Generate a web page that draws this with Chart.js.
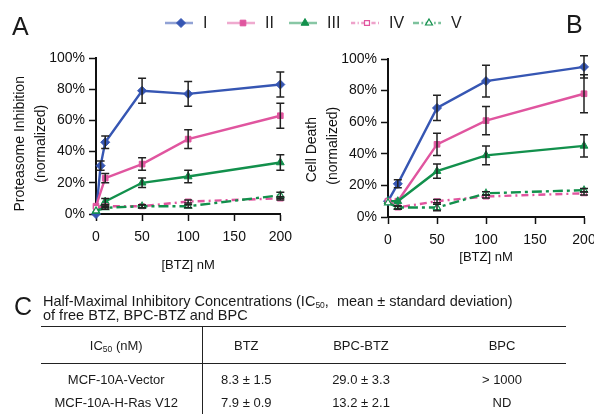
<!DOCTYPE html>
<html>
<head>
<meta charset="utf-8">
<script src="https://cdn.jsdelivr.net/npm/chart.js@4.4.1/dist/chart.umd.min.js"></script>
<style>
body { margin: 0; background: #fff; font-family: "Liberation Sans", Arial, sans-serif; color: #1a1a1a; }
#wrap { position: relative; width: 594px; height: 414px; overflow: hidden; background: #fff; }
.panel { position: absolute; font-size: 25px; line-height: 25px; }
#legendBox { position: absolute; left: 0; top: 0; width: 594px; height: 35px; }
#boxA { position: absolute; left: 0; top: 35px; width: 300px; height: 250px; }
#boxB { position: absolute; left: 300px; top: 35px; width: 310px; height: 250px; }
#titleC { position: absolute; left: 43px; top: 294px; font-size: 14.5px; line-height: 14px; white-space: nowrap; }
#titleC sub, #tableC sub { font-size: 8.5px; vertical-align: -2px; line-height: 0; }
#tableC { position: absolute; left: 41px; top: 326px; border-collapse: collapse; table-layout: fixed; font-size: 13px; }
#tableC td, #tableC th { font-weight: normal; text-align: center; padding: 0; white-space: nowrap; }
#tableC thead th { height: 36px; border-top: 1.5px solid #222; border-bottom: 1.5px solid #222; }
#tableC tbody td { height: 23px; line-height: 23px; }
#tableC tbody tr:first-child td { padding-top: 4px; }
#tableC .first { border-right: 1.5px solid #222; padding-right: 10px; }
#tableC .last { padding-left: 6px; }
</style>
</head>
<body>
<div id="wrap">
  <div id="legendBox"><canvas id="legend"></canvas></div>
  <div class="panel" style="left:12px; top:14px;">A</div>
  <div class="panel" style="left:566px; top:12px;">B</div>
  <div id="boxA"><canvas id="chartA"></canvas></div>
  <div id="boxB"><canvas id="chartB"></canvas></div>
  <div class="panel" style="left:14px; top:294px;">C</div>
  <div id="titleC">Half-Maximal Inhibitory Concentrations (IC<sub>50</sub>,&nbsp; mean &plusmn; standard deviation)<br>of free BTZ, BPC-BTZ and BPC</div>
  <table id="tableC">
    <colgroup><col style="width:161px"><col style="width:88px"><col style="width:142px"><col style="width:134px"></colgroup>
    <thead><tr id="headRow"></tr></thead>
    <tbody id="bodyRows"></tbody>
  </table>
</div>
<script>
// series names and doses
var seriesNames = ['I', 'II', 'III', 'IV', 'V'];
var dosesFine = [0, 5, 10, 50, 100, 200];
var doses = [0, 10, 50, 100, 200];
var xTicks = [0, 50, 100, 150, 200];
var yTicks = [0, 20, 40, 60, 80, 100];

// panel A: proteasome inhibition (%)
var inhibI = [0, 31, 46, 79, 77, 83];
var inhibIErr = [0, 3, 4, 8, 8, 8];
var inhibII = [5, 23, 32, 48, 63];
var inhibIIErr = [0, 3, 4, 6, 8];
var inhibIII = [2, 8, 20, 24, 33];
var inhibIIIErr = [0, 2, 3, 4, 5];
var inhibIV = [4, 5, 5, 8, 10];
var inhibIVErr = [0, 1, 1, 1, 1];
var inhibV = [2, 4, 5, 5, 12];
var inhibVErr = [0, 1, 1, 1, 2];

// panel B: cell death (%)
var deathI = [10, 21, 69, 86, 95];
var deathIErr = [0, 2.5, 8, 10, 7];
var deathII = [10, 10, 46, 61, 78];
var deathIIErr = [0, 0, 7, 9, 12];
var deathIII = [10, 10, 29, 39, 45];
var deathIIIErr = [0, 0, 4.5, 6, 7];
var deathIV = [10, 6, 10, 13, 15];
var deathIVErr = [0, 1, 1, 1, 1];
var deathV = [9, 6, 6, 15, 17];
var deathVErr = [0, 1, 2, 1, 1];

// panel C: IC50 table
var tableHead = ['IC<sub>50</sub> (nM)', 'BTZ', 'BPC-BTZ', 'BPC'];
var cellLines = ['MCF-10A-Vector', 'MCF-10A-H-Ras V12'];
var btzIC50 = ['8.3 &plusmn; 1.5', '7.9 &plusmn; 0.9'];
var bpcBtzIC50 = ['29.0 &plusmn; 3.3', '13.2 &plusmn; 2.1'];
var bpcIC50 = ['&gt; 1000', 'ND'];

var styles = [
	{ color: '#3656b3', light: 'rgba(54,86,179,0.55)', point: 'rectRot', r: 4.5, open: false, dash: [] },
	{ color: '#e0559f', light: 'rgba(224,85,159,0.5)', point: 'rect', r: 4, open: false, dash: [] },
	{ color: '#12904c', light: 'rgba(18,144,76,0.5)', point: 'triangle', r: 4.5, open: false, dash: [] },
	{ color: '#e0559f', light: 'rgba(224,85,159,0.55)', point: 'rect', r: 3.5, open: true, dash: [7, 4, 2, 4] },
	{ color: '#12904c', light: 'rgba(18,144,76,0.55)', point: 'triangle', r: 4, open: true, dash: [10, 4, 3, 4] }
];

var FONT = '"Liberation Sans", Arial, sans-serif';
var NB = '\u00a0';

function toXY(xs, ys) {
	return ys.map(function(v, i) { return { x: xs[i], y: v }; });
}

function makeSets(list) {
	return list.map(function(s, i) {
		var st = styles[i];
		return {
			label: seriesNames[i],
			data: toXY(s.x, s.y),
			errors: s.err,
			borderColor: st.color,
			borderWidth: 2.4,
			borderDash: st.dash,
			pointStyle: st.point,
			pointRadius: st.r,
			pointHoverRadius: st.r,
			pointBorderWidth: st.open ? 1.2 : 1,
			pointBackgroundColor: st.open ? '#fff' : st.color,
			pointBorderColor: st.color,
			tension: 0,
			clip: false,
			order: 5 - i
		};
	});
}

var errorBars = {
	id: 'errorBars',
	afterDatasetsDraw: function(chart) {
		var ctx = chart.ctx, xs = chart.scales.x, ys = chart.scales.y;
		ctx.save();
		ctx.strokeStyle = '#222';
		ctx.lineWidth = 1.5;
		chart.data.datasets.forEach(function(ds) {
			if (!ds.errors) return;
			ds.data.forEach(function(p, i) {
				var e = ds.errors[i];
				if (!e) return;
				var px = xs.getPixelForValue(p.x);
				var top = ys.getPixelForValue(p.y + e);
				var bot = ys.getPixelForValue(p.y - e);
				ctx.beginPath();
				ctx.moveTo(px, top); ctx.lineTo(px, bot);
				ctx.moveTo(px - 4, top); ctx.lineTo(px + 4, top);
				ctx.moveTo(px - 4, bot); ctx.lineTo(px + 4, bot);
				ctx.stroke();
			});
		});
		ctx.restore();
	}
};

function makeOptions(o) {
	return {
		responsive: true,
		maintainAspectRatio: false,
		animation: false,
		layout: { padding: { left: 0, right: o.padRight, top: o.padTop, bottom: 0 } },
		plugins: { legend: { display: false }, tooltip: { enabled: false } },
		scales: {
			x: {
				type: 'linear', min: 0, max: 200,
				afterBuildTicks: function(axis) { axis.ticks = xTicks.map(function(v) { return { value: v }; }); },
				afterFit: function(axis) { axis.height = o.xHeight; },
				grid: { drawOnChartArea: false, drawTicks: true, tickLength: 7, tickWidth: 1.5, color: '#111' },
				border: { color: '#111', width: 2 },
				ticks: { color: '#111', padding: o.xTickPad, maxRotation: 0, font: { family: FONT, size: 14 } },
				title: { display: true, text: '[BTZ] nM', color: '#111', padding: { top: 0, bottom: o.xTitlePad }, font: { family: FONT, size: 13 } }
			},
			y: {
				min: 0, max: 100,
				afterBuildTicks: function(axis) { axis.ticks = yTicks.map(function(v) { return { value: v }; }); },
				afterFit: function(axis) { axis.width = o.yWidth; },
				grid: { drawOnChartArea: false, drawTicks: true, tickLength: 7, tickWidth: 1.5, color: '#111' },
				border: { color: '#111', width: 2 },
				ticks: { color: '#111', padding: 4, font: { family: FONT, size: 14 }, callback: function(v) { return v + '%'; } },
				title: { display: true, text: o.yTitle, color: '#111', padding: { top: o.yTitlePad, bottom: 0 }, font: { family: FONT, size: 14, lineHeight: 1.55 } }
			}
		}
	};
}

var chartA = new Chart(document.getElementById('chartA').getContext('2d'), {
	type: 'line',
	data: { datasets: makeSets([
		{ x: dosesFine, y: inhibI, err: inhibIErr },
		{ x: doses, y: inhibII, err: inhibIIErr },
		{ x: doses, y: inhibIII, err: inhibIIIErr },
		{ x: doses, y: inhibIV, err: inhibIVErr },
		{ x: doses, y: inhibV, err: inhibVErr }
	]) },
	options: makeOptions({ padRight: 19, padTop: 23, xHeight: 71, yWidth: 96, xTickPad: 8, xTitlePad: 12,
		yTitle: ['Proteasome Inhibition' + NB + NB + NB + NB, '(normalized)' + NB + NB + NB + NB], yTitlePad: 9 }),
	plugins: [errorBars]
});

var chartB = new Chart(document.getElementById('chartB').getContext('2d'), {
	type: 'line',
	data: { datasets: makeSets([
		{ x: doses, y: deathI, err: deathIErr },
		{ x: doses, y: deathII, err: deathIIErr },
		{ x: doses, y: deathIII, err: deathIIIErr },
		{ x: doses, y: deathIV, err: deathIVErr },
		{ x: doses, y: deathV, err: deathVErr }
	]) },
	options: makeOptions({ padRight: 26, padTop: 24, xHeight: 68, yWidth: 88, xTickPad: 8, xTitlePad: 20,
		yTitle: ['Cell Death' + NB + NB + NB + NB + NB + NB, '(normalized)' + NB + NB + NB + NB], yTitlePad: 1 }),
	plugins: [errorBars]
});

// legend row across both panels
var legendDraw = {
	id: 'legendDraw',
	afterDraw: function(chart) {
		var ctx = chart.ctx;
		var y = 23;
		ctx.save();
		chart.data.datasets.forEach(function(ds, i) {
			var st = styles[i];
			var x0 = 165 + i * 62;
			ctx.strokeStyle = st.light;
			ctx.lineWidth = 2.5;
			ctx.setLineDash(st.dash.map(function(d) { return d * 0.6; }));
			ctx.beginPath();
			ctx.moveTo(x0, y); ctx.lineTo(x0 + 28, y);
			ctx.stroke();
			ctx.setLineDash([]);
			ctx.fillStyle = st.open ? '#fff' : st.color;
			ctx.strokeStyle = st.color;
			ctx.lineWidth = st.open ? 1.2 : 1;
			Chart.helpers.drawPoint(ctx, { pointStyle: st.point, radius: st.r, rotation: 0, borderWidth: ctx.lineWidth }, x0 + 16, y);
			ctx.fillStyle = '#222';
			ctx.font = '16px ' + FONT;
			ctx.textBaseline = 'middle';
			ctx.fillText(ds.label, x0 + 38, y + 1);
		});
		ctx.restore();
	}
};

var legendChart = new Chart(document.getElementById('legend').getContext('2d'), {
	type: 'line',
	data: { datasets: seriesNames.map(function(n) { return { label: n, data: [] }; }) },
	options: {
		responsive: true, maintainAspectRatio: false, animation: false,
		plugins: { legend: { display: false }, tooltip: { enabled: false } },
		scales: { x: { display: false }, y: { display: false } }
	},
	plugins: [legendDraw]
});

// table C
var headRow = document.getElementById('headRow');
tableHead.forEach(function(h, i) {
	var th = document.createElement('th');
	th.innerHTML = h;
	if (i === 0) th.className = 'first';
	if (i === tableHead.length - 1) th.className = 'last';
	headRow.appendChild(th);
});
var bodyRows = document.getElementById('bodyRows');
cellLines.forEach(function(name, r) {
	var tr = document.createElement('tr');
	[name, btzIC50[r], bpcBtzIC50[r], bpcIC50[r]].forEach(function(v, i) {
		var td = document.createElement('td');
		td.innerHTML = v;
		if (i === 0) td.className = 'first';
		if (i === 3) td.className = 'last';
		tr.appendChild(td);
	});
	bodyRows.appendChild(tr);
});
</script>
</body>
</html>
